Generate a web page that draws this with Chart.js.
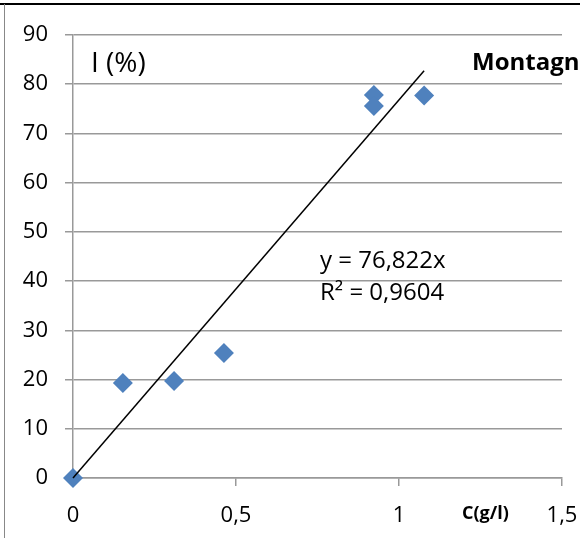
<!DOCTYPE html>
<html><head><meta charset="utf-8">
<script src="https://cdn.jsdelivr.net/npm/chart.js@4"></script>
<style>html,body{margin:0;padding:0;background:#fff}#wrap{width:580px;height:538px;position:relative}</style>
</head><body><div id="wrap"><canvas id="c" width="580" height="538"></canvas></div>
<script>
const concentrations = [0, 0.153, 0.31, 0.463, 0.923, 0.923, 1.077];
const inhibition = [0, 19.3, 19.7, 25.4, 77.8, 75.6, 77.7];
const trendSlope = 76.822;
const rSquared = '0,9604';
const xTicks = [0, 0.5, 1, 1.5];
const yTicks = [0, 10, 20, 30, 40, 50, 60, 70, 80, 90];
const titleText = 'Montagne';
const yLabel = 'I (%)';
const xLabel = 'C(g/l)';

const xMaxData = Math.max(...concentrations);
const trendPoints = [{x: 0, y: 0}, {x: xMaxData, y: trendSlope * xMaxData}];
const fmt = v => String(v).replace('.', ',');
const FONT = '"Open Sans", sans-serif';

const deco = {
  id: 'deco',
  afterDraw(chart) {
    const ctx = chart.ctx;
    ctx.save();
    ctx.fillStyle = '#000';
    ctx.textBaseline = 'middle';
    ctx.textAlign = 'left';
    ctx.font = '28px ' + FONT;
    ctx.fillText(yLabel, 91, 64);
    ctx.font = 'bold 24px ' + FONT;
    ctx.fillText(titleText, 472, 63);
    ctx.font = '24px ' + FONT;
    ctx.fillText('y = ' + fmt(trendSlope) + 'x', 320, 261);
    ctx.fillText('R² = ' + rSquared, 320, 293);
    ctx.font = 'bold 18px ' + FONT;
    ctx.fillText(xLabel, 462, 514);
    // frame
    ctx.strokeStyle = '#000'; ctx.lineWidth = 2;
    ctx.beginPath(); ctx.moveTo(0, 4); ctx.lineTo(580, 4); ctx.stroke();
    ctx.strokeStyle = '#888'; ctx.lineWidth = 1;
    ctx.beginPath(); ctx.moveTo(4.5, 4); ctx.lineTo(4.5, 538); ctx.stroke();
    ctx.restore();
  }
};

new Chart(document.getElementById('c'), {
  type: 'scatter',
  data: {
    datasets: [
      {
        data: concentrations.map((x, i) => ({x, y: inhibition[i]})),
        pointStyle: 'rectRot', pointRadius: 10, pointHoverRadius: 10,
        backgroundColor: '#4F81BD', borderColor: '#4F81BD', borderWidth: 0, order: 2, clip: false
      },
      {
        type: 'line', data: trendPoints, borderColor: '#000', borderWidth: 1.5,
        pointRadius: 0, fill: false, order: 1, clip: false
      }
    ]
  },
  options: {
    responsive: false, animation: false, events: [],
    layout: {padding: {left: 0, right: 18, top: 35, bottom: 0}},
    plugins: {legend: {display: false}, tooltip: {enabled: false}},
    scales: {
      x: {
        type: 'linear', min: 0, max: 1.5,
        afterBuildTicks: s => { s.ticks = xTicks.map(v => ({value: v})); },
        afterFit: s => { s.height = 60; s.paddingLeft = 0; s.paddingRight = 0; },
        grid: {drawOnChartArea: false, drawTicks: true, tickLength: 8, color: '#999', lineWidth: 1.5},
        border: {color: '#999', width: 1.5},
        ticks: {color: '#000', font: {size: 22, family: FONT}, padding: 17, callback: v => fmt(v), maxRotation: 0}
      },
      y: {
        type: 'linear', min: 0, max: 90,
        afterBuildTicks: s => { s.ticks = yTicks.map(v => ({value: v})); },
        afterFit: s => { s.width = 73; s.paddingTop = 0; s.paddingBottom = 0; },
        grid: {drawOnChartArea: true, drawTicks: true, tickLength: 8, color: '#999', lineWidth: 1.5},
        border: {color: '#999', width: 1.5},
        ticks: {color: '#000', font: {size: 22, family: FONT}, padding: 17}
      }
    }
  },
  plugins: [deco]
});
</script></body></html>
